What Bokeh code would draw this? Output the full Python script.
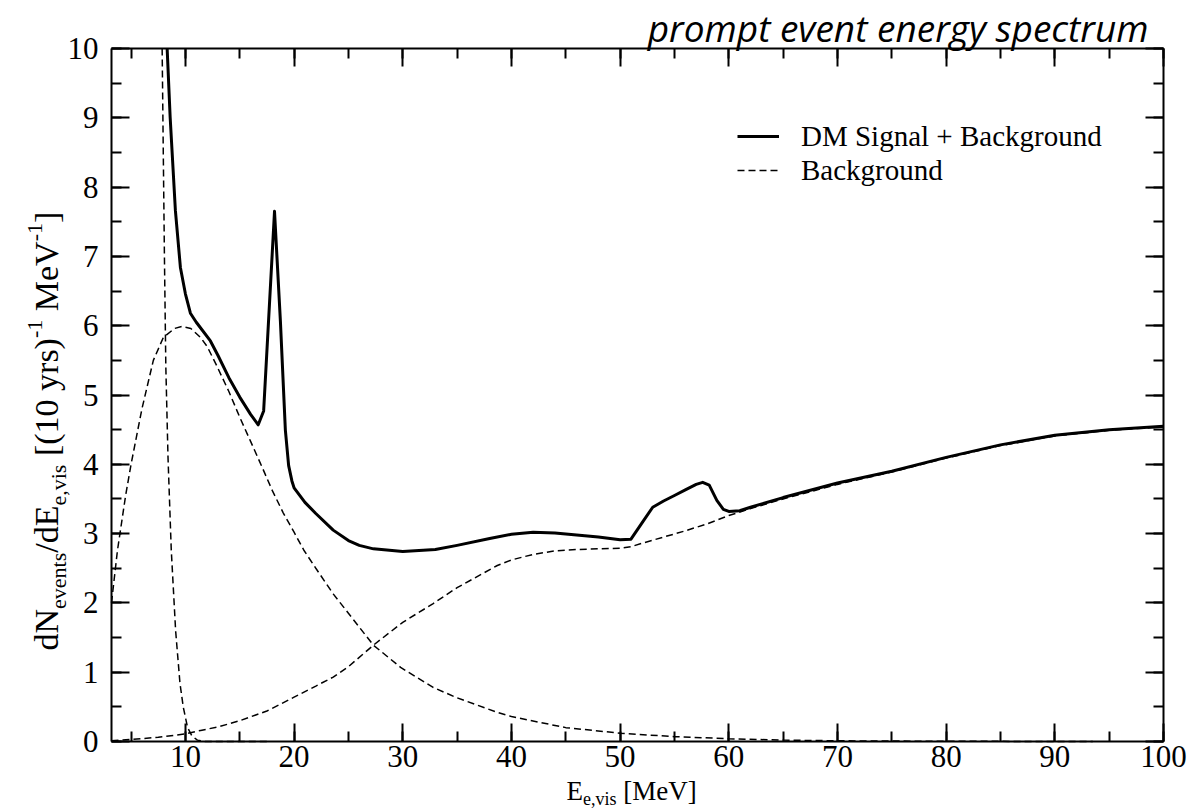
from math import pi
from bokeh.plotting import figure
from bokeh.models import (Range1d, SingleIntervalTicker, LinearAxis, Label,
                          Legend, LegendItem, CustomJSTickFormatter)
from bokeh.embed import file_html
from bokeh.resources import INLINE

# ---------------- data ----------------
signal_x = [8.32, 8.6, 9.08, 9.54, 10.0, 10.46, 11.0, 12.3, 13.0, 14.0, 15.0, 16.0, 16.7,
            17.2, 18.2, 18.74, 19.2, 19.5, 19.8, 20.0, 21.0, 22.0, 23.6, 25.0, 26.0, 27.3,
            30.0, 33.0, 35.0, 38.0, 40.0, 42.0, 44.0, 46.0, 48.0, 50.0, 51.0, 52.0, 53.0,
            54.0, 55.0, 56.0, 57.0, 57.6, 58.2, 58.9, 59.5, 60.0, 61.0, 62.0, 65.0, 70.0,
            75.0, 80.0, 85.0, 90.0, 95.0, 100.0]
signal_y = [10.0, 9.0, 7.66, 6.84, 6.46, 6.18, 6.05, 5.78, 5.57, 5.25, 4.97, 4.72, 4.57,
            4.77, 7.65, 6.07, 4.49, 3.98, 3.76, 3.66, 3.45, 3.29, 3.05, 2.9, 2.83, 2.78,
            2.74, 2.77, 2.83, 2.93, 2.99, 3.02, 3.01, 2.98, 2.95, 2.91, 2.92, 3.15, 3.38,
            3.47, 3.55, 3.63, 3.71, 3.74, 3.7, 3.48, 3.35, 3.32, 3.33, 3.38, 3.52, 3.73,
            3.9, 4.1, 4.28, 4.42, 4.5, 4.55]

bg_steep_x = [7.86, 8.0, 8.07, 8.2, 8.4, 8.7, 9.1, 9.5, 9.8, 10.2, 10.6, 11.1, 11.8, 13.0, 17.8]
bg_steep_y = [10.0, 8.0, 7.0, 5.4, 4.1, 2.76, 1.6, 0.84, 0.5, 0.2, 0.08, 0.02, 0.0, 0.0, 0.0]

bg_hump_x = [3.2, 3.75, 4.5, 5.0, 6.0, 7.05, 7.97, 9.0, 9.7, 10.5, 11.4, 12.0, 12.8, 14.0,
             15.0, 16.0, 17.0, 18.0, 19.0, 20.0, 20.9, 22.0, 23.6, 25.0, 27.3, 29.8, 32.8,
             35.0, 38.7, 40.0, 45.0, 50.0, 55.0, 60.0, 65.0, 70.0, 80.0, 93.5]
bg_hump_y = [2.0, 2.76, 3.55, 4.0, 4.8, 5.5, 5.83, 5.96, 5.99, 5.96, 5.83, 5.7, 5.45, 5.05,
             4.68, 4.33, 3.98, 3.62, 3.3, 3.02, 2.76, 2.5, 2.13, 1.85, 1.39, 1.07, 0.78,
             0.63, 0.42, 0.36, 0.2, 0.12, 0.07, 0.04, 0.02, 0.01, 0.003, 0.0]

bg_rise_x = [3.2, 5.0, 7.5, 10.0, 11.4, 13.0, 15.0, 17.5, 20.0, 22.0, 23.6, 25.0, 27.3, 30.0,
             32.8, 35.0, 38.7, 40.0, 42.0, 44.0, 46.0, 48.0, 50.0, 51.0, 52.0, 54.0, 56.0,
             58.0, 60.0, 62.0, 65.0, 70.0, 75.0, 80.0, 85.0, 90.0, 95.0, 100.0]
bg_rise_y = [0.01, 0.03, 0.06, 0.11, 0.16, 0.21, 0.3, 0.44, 0.64, 0.8, 0.93, 1.08, 1.39, 1.72,
             1.99, 2.22, 2.54, 2.62, 2.7, 2.75, 2.77, 2.78, 2.79, 2.81, 2.86, 2.95, 3.04,
             3.14, 3.26, 3.36, 3.5, 3.71, 3.89, 4.09, 4.27, 4.41, 4.49, 4.54]

legend_labels = ["DM Signal + Background", "Background"]
title_text = "prompt event energy spectrum"

# ---------------- layout ----------------
W, H = 1190, 811
X0, X1, Y0, Y1 = 3.2, 100.0, 0.0, 10.0      # axis box in data units
FL, FR, FT, FB = 111, 1163, 48, 741          # axis box in canvas pixels
KX = (FR - FL) / (X1 - X0)
KY = (FB - FT) / (Y1 - Y0)
XS_, XE_ = X0 - FL / KX, X1 + (W - FR) / KX
YS_, YE_ = Y0 - (H - FB) / KY, Y1 + FT / KY


def dx(px):
    return XS_ + px / KX


def dy(py):
    return YE_ - py / KY


TW = {' ': 250, '(': 333, ')': 333, '[': 333, ']': 333, '/': 278, ',': 250, '-': 333,
      '0': 500, '1': 500, 'd': 500, 'e': 444, 'i': 278, 'n': 500, 's': 389, 't': 278,
      'v': 500, 'y': 500, 'r': 333, 'E': 611, 'M': 889, 'N': 722, 'V': 722}


def tw(s, size):
    return sum(TW.get(c, 500) for c in s) / 1000.0 * size


SERIF = "Liberation Serif"
BASE_SHIFT = 0.35          # empirical: rendered baseline sits this many em below the anchor

p = figure(width=W, height=H, output_backend="svg", toolbar_location=None,
           x_range=Range1d(XS_, XE_), y_range=Range1d(YS_, YE_),
           x_axis_type=None, y_axis_type=None,
           min_border_left=0, min_border_right=0, min_border_top=0, min_border_bottom=0)
p.outline_line_color = None
p.background_fill_color = "white"
p.border_fill_color = "white"
p.grid.visible = False


def make_axis(kind, loc, bounds, labels):
    tick = SingleIntervalTicker(interval=10, num_minor_ticks=2) if kind == "x" else \
        SingleIntervalTicker(interval=1, num_minor_ticks=2)
    ax = LinearAxis(ticker=tick, fixed_location=loc, bounds=bounds)
    ax.axis_line_width = 2
    ax.axis_line_color = "black"
    ax.major_tick_in = 18
    ax.major_tick_out = 0
    ax.minor_tick_in = 10
    ax.minor_tick_out = 0
    ax.major_tick_line_width = 2
    ax.minor_tick_line_width = 2
    ax.major_tick_line_color = "black"
    ax.minor_tick_line_color = "black"
    ax.major_label_text_font = SERIF
    ax.major_label_text_font_size = "31px"
    ax.major_label_text_color = "black"
    ax.major_label_standoff = 4 if kind == "x" else 13
    if not labels:
        ax.formatter = CustomJSTickFormatter(code="return ''")
    return ax


p.add_layout(make_axis("x", Y0, (X0, X1), True), "below")
p.add_layout(make_axis("y", X0, (Y0, Y1), True), "left")
p.add_layout(make_axis("x", Y1, (X0, X1), False), "above")
p.add_layout(make_axis("y", X1, (Y0, Y1), False), "right")

dash = "7 4"
r_steep = p.line(bg_steep_x, bg_steep_y, line_width=1.5, color="black", line_dash=dash)
r_hump = p.line(bg_hump_x, bg_hump_y, line_width=1.5, color="black", line_dash=dash)
r_rise = p.line(bg_rise_x, bg_rise_y, line_width=1.5, color="black", line_dash=dash)
r_sig = p.line(signal_x, signal_y, line_width=3, color="black", line_join="round")

# legend: location = bottom-left corner of the box, screen units from the frame's bottom-left
legend = Legend(items=[LegendItem(label=legend_labels[0], renderers=[r_sig]),
                       LegendItem(label=legend_labels[1], renderers=[r_steep])],
                location=(737, H - 187), border_line_color=None, background_fill_alpha=0,
                padding=0, margin=0, spacing=0, glyph_width=42, glyph_height=34,
                label_height=34, label_standoff=22, label_text_font=SERIF,
                label_text_font_size="29px", label_text_color="black")
p.add_layout(legend)


def put(px, py, text, size, font=SERIF, angle=0.0, style="normal", align="left"):
    # (px, py): wanted baseline start (or end for right-aligned) in canvas pixels
    if angle == 0.0:
        py = py - BASE_SHIFT * size
    else:
        px = px - BASE_SHIFT * size
    p.add_layout(Label(x=dx(px), y=dy(py), text=text, angle=angle, text_font=font,
                       text_font_style=style, text_font_size=f"{size}px",
                       text_baseline="alphabetic", text_align=align, text_color="black"))


# ---------------- title ----------------
put(1148, 40, title_text, 37, font="Open Sans", style="italic", align="right")

# ---------------- x axis label: E_{e,vis} [MeV] ----------------
XM, XSUB = 27, 18
cx = 566.0
put(cx, 800, "E", XM)
cx += tw("E", XM)
put(cx, 805, "e,vis", XSUB)
cx += tw("e,vis", XSUB) + tw(" ", XM)
put(cx, 800, "[MeV]", XM)

# ---------------- y axis label ----------------
YM, YSUB = 34, 22
base = {"m": 58, "b": 66, "p": 42}
pieces = [("dN", "m", 0), ("events", "b", 0), ("/dE", "m", 0), ("e,vis", "b", 0),
          ("[(10 yrs)", "m", 1), ("-1", "p", 0), ("MeV", "m", 1), ("-1", "p", 0), ("]", "m", 0)]
cy = 650.0
for txt, kind, lead in pieces:
    size = YM if kind == "m" else YSUB
    if lead:
        cy -= tw(" ", YM)
    put(base[kind], cy, txt, size, angle=pi / 2)
    cy -= tw(txt, size)

open("out.html", "w").write(file_html(p, INLINE))
